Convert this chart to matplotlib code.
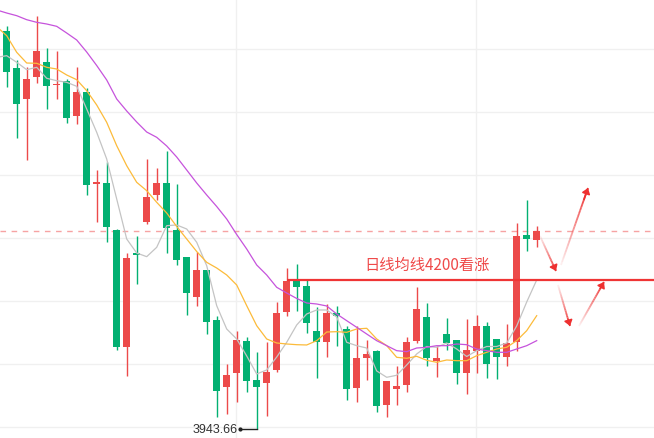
import numpy as np
import matplotlib
matplotlib.use("Agg")
import matplotlib.pyplot as plt
from matplotlib.collections import LineCollection

# daily candles (index 0..53), prices
opens = [4627.7, 4564.6, 4511.8, 4549.7, 4574.9, 4535.9, 4541.7, 4482.6, 4523.3, 4365.6,
         4366.8, 4286.0, 4085.3, 4246.4, 4299.7, 4346.7, 4366.8, 4286.0, 4239.5, 4171.3,
         4217.2, 4131.7, 4016.5, 4040.5, 4094.5, 4028.0, 4023.3, 4044.7, 4145.5, 4198.8,
         4189.1, 4112.3, 4093.9, 4143.2, 4115.7, 4014.7, 4066.3, 4077.9, 3985.5, 4012.0,
         4019.9, 4095.6, 4136.3, 4061.2, 4107.1, 4096.3, 4039.5, 4078.4, 4120.9, 4098.0,
         4068.1, 4093.3, 4276.9, 4269.3]
highs = [4636.3, 4578.9, 4566.9, 4653.5, 4599.5, 4594.4, 4545.7, 4565.8, 4529.7, 4389.7,
         4402.4, 4287.7, 4245.9, 4275.1, 4407.6, 4392.1, 4422.4, 4365.1, 4239.5, 4247.6,
         4217.2, 4137.5, 4055.5, 4112.8, 4102.5, 4076.7, 4092.8, 4161.6, 4220.6, 4227.5,
         4201.7, 4153.0, 4158.7, 4154.7, 4120.3, 4120.3, 4096.8, 4079.6, 4026.3, 4051.5,
         4101.9, 4187.9, 4160.4, 4085.9, 4134.1, 4096.3, 4132.9, 4139.8, 4128.3, 4098.0,
         4123.8, 4298.0, 4337.6, 4292.3]
lows = [4531.4, 4443.7, 4405.9, 4538.8, 4494.1, 4511.3, 4469.5, 4467.8, 4346.2, 4299.2,
        4264.8, 4080.1, 4034.3, 4192.6, 4295.8, 4338.1, 4245.9, 4226.3, 4139.3, 4155.8,
        4106.6, 3963.8, 3969.5, 3989.6, 4007.9, 3943.66, 3966.6, 4041.2, 4138.6, 4147.2,
        4108.3, 4031.4, 4067.0, 4085.9, 3994.1, 3989.6, 4028.0, 3973.5, 3963.8, 3985.5,
        4006.8, 4091.1, 4052.1, 4032.6, 4080.1, 4021.6, 4003.9, 4040.0, 4030.9, 4029.7,
        4051.5, 4078.4, 4249.9, 4256.2]
closes = [4558.3, 4503.2, 4545.7, 4593.9, 4534.2, 4537.1, 4479.1, 4523.3, 4363.9, 4367.7,
          4291.7, 4085.3, 4237.8, 4243.8, 4342.7, 4366.8, 4288.9, 4234.9, 4178.1, 4217.2,
          4128.3, 4009.1, 4036.6, 4096.8, 4026.8, 4016.5, 4041.7, 4143.2, 4198.8, 4187.4,
          4125.5, 4092.8, 4143.2, 4138.6, 4012.0, 4065.8, 4072.2, 3983.8, 4026.3, 4018.2,
          4093.3, 4149.6, 4065.8, 4065.8, 4092.1, 4040.5, 4079.1, 4120.9, 4056.0, 4068.1,
          4091.6, 4275.7, 4270.0, 4284.3]

# moving averages, index -1..53 (first point is just off the left edge)
ma_fast = [4583.0, 4585.8, 4574.4, 4561.7, 4565.8, 4546.9, 4542.8, 4540.0, 4533.1, 4494.1,
           4454.0, 4408.1, 4339.3, 4270.5, 4246.4, 4240.1, 4256.2, 4293.4, 4294.6, 4287.7,
           4264.8, 4224.6, 4155.8, 4115.7, 4098.5, 4069.3, 4038.3, 4045.2, 4067.5, 4092.8,
           4122.6, 4141.5, 4148.4, 4148.4, 4136.3, 4092.8, 4087.0, 4083.0, 4043.5, 4032.6,
           4036.1, 4053.8, 4072.7, 4085.6, 4084.2, 4091.6, 4081.3, 4068.4, 4078.4, 4085.6,
           4085.6, 4091.6, 4120.9, 4162.1, 4200.0]
ma_mid = [4635.7, 4620.2, 4591.6, 4573.2, 4572.7, 4565.8, 4562.9, 4552.6, 4544.5, 4525.6,
          4501.0, 4471.2, 4431.0, 4396.6, 4368.0, 4353.6, 4333.6, 4315.2, 4292.0, 4270.5,
          4249.0, 4230.4, 4220.6, 4208.6, 4191.4, 4155.8, 4121.4, 4098.5, 4091.6, 4089.9,
          4088.7, 4088.2, 4095.6, 4110.5, 4111.1, 4110.0, 4115.7, 4116.9, 4098.5, 4087.0,
          4067.0, 4065.3, 4068.7, 4061.9, 4058.4, 4062.4, 4061.2, 4061.2, 4069.8, 4075.6,
          4081.3, 4084.2, 4095.6, 4112.8, 4138.6]
ma_slow = [4664.4, 4659.2, 4654.6, 4647.7, 4643.2, 4640.3, 4636.3, 4624.8, 4612.8, 4592.1,
           4568.9, 4544.0, 4511.3, 4490.7, 4471.7, 4454.5, 4445.4, 4430.5, 4411.5, 4389.2,
           4366.8, 4346.2, 4326.4, 4304.9, 4278.2, 4253.3, 4225.8, 4208.6, 4187.4, 4177.6,
           4168.2, 4160.4, 4158.7, 4155.3, 4141.5, 4130.0, 4118.6, 4107.1, 4095.6, 4087.0,
           4078.4, 4076.7, 4083.0, 4084.2, 4087.0, 4087.0, 4089.9, 4088.7, 4081.3, 4078.4,
           4075.6, 4075.6, 4081.3, 4087.0, 4095.6]

low_label = "3943.66"
level = 4200
level_start = 28
note = "日线均线4200看涨"

# scenario arrows: (x0, y0, x1, y1) in candle index / price
arrows = [(53.33, 4275.7, 54.93, 4215.5),
          (55.43, 4225.8, 58.13, 4358.2),
          (55.13, 4191.4, 56.33, 4120.9),
          (57.23, 4120.9, 59.73, 4196.5)]

RED = "#ec4a4a"
GREEN = "#03b072"

fig = plt.figure(figsize=(6.54, 4.39), dpi=100)
ax = fig.add_axes([0, 0, 1, 1])

x = np.arange(len(opens))
o = np.array(opens)
c = np.array(closes)
up = c >= o
colors = [RED if u else GREEN for u in up]
body = np.maximum(np.abs(c - o), 1.8)
bottom = np.minimum(o, c)
ax.vlines(x, lows, highs, colors=colors, lw=1, zorder=2)
ax.bar(x, body, bottom=bottom, width=0.7, color=colors, linewidth=0, zorder=3)

xm = np.arange(-1, len(opens))
ax.plot(xm, ma_fast, color="#c4c4c4", lw=0.9, zorder=4)
ax.plot(xm, ma_mid, color="#fcbb3a", lw=0.9, zorder=4)
ax.plot(xm, ma_slow, color="#c653dc", lw=0.9, zorder=4)

# last close dashed line and the 4200 level
ax.axhline(closes[-1], color="#f6a3a3", lw=1, ls=(0, (4, 4)), zorder=1)
ax.hlines(level, level_start, 70, color="#ef3535", lw=1.6, zorder=5)
ax.text(35.8, 4227, note, color="#ef4a4a", fontsize=11, va="center", ha="left",
        family=["Noto Sans CJK SC", "DejaVu Sans"])

# lowest low marker
ilow = int(np.argmin(lows))
ax.plot([ilow - 1.67, ilow], [lows[ilow]] * 2, color="#222222", lw=1, zorder=5)
ax.plot(ilow - 1.67, lows[ilow], "o", color="#222222", ms=2, zorder=5)
ax.text(ilow - 1.95, lows[ilow], low_label, ha="right", va="center", fontsize=9,
        color="#333333", family="Liberation Sans")


def fade_arrow(x0, y0, x1, y1):
    n = 24
    xs = np.linspace(x0, x1, n + 1)
    ys = np.linspace(y0, y1, n + 1)
    segs = [[(xs[k], ys[k]), (xs[k + 1], ys[k + 1])] for k in range(n)]
    rgba = np.zeros((n, 4))
    rgba[:, :3] = matplotlib.colors.to_rgb("#ee3030")
    rgba[:, 3] = np.linspace(0.08, 1, n)
    ax.add_collection(LineCollection(segs, colors=rgba, lw=1.3, zorder=6))
    ax.annotate("", xy=(x1, y1), xytext=(x1 - (x1 - x0) * 0.15, y1 - (y1 - y0) * 0.15),
                arrowprops=dict(arrowstyle="-|>,head_width=0.3", color="#ee3030", lw=1.2,
                                mutation_scale=8, shrinkA=0, shrinkB=0), zorder=6)


for a in arrows:
    fade_arrow(*a)

ax.set_xlim(-0.67, 64.73)
ax.set_ylim(3928.2, 4683.3)
ax.set_yticks(3947.1 + 108.35 * np.arange(7))
ax.set_xticks([22.93, 46.93])
ax.grid(color="#f0f0f0", lw=1, zorder=0)
ax.set_axisbelow(True)
ax.tick_params(length=0, labelleft=False, labelbottom=False)
for s in ax.spines.values():
    s.set_visible(False)

fig.savefig("out.png", dpi=100)
